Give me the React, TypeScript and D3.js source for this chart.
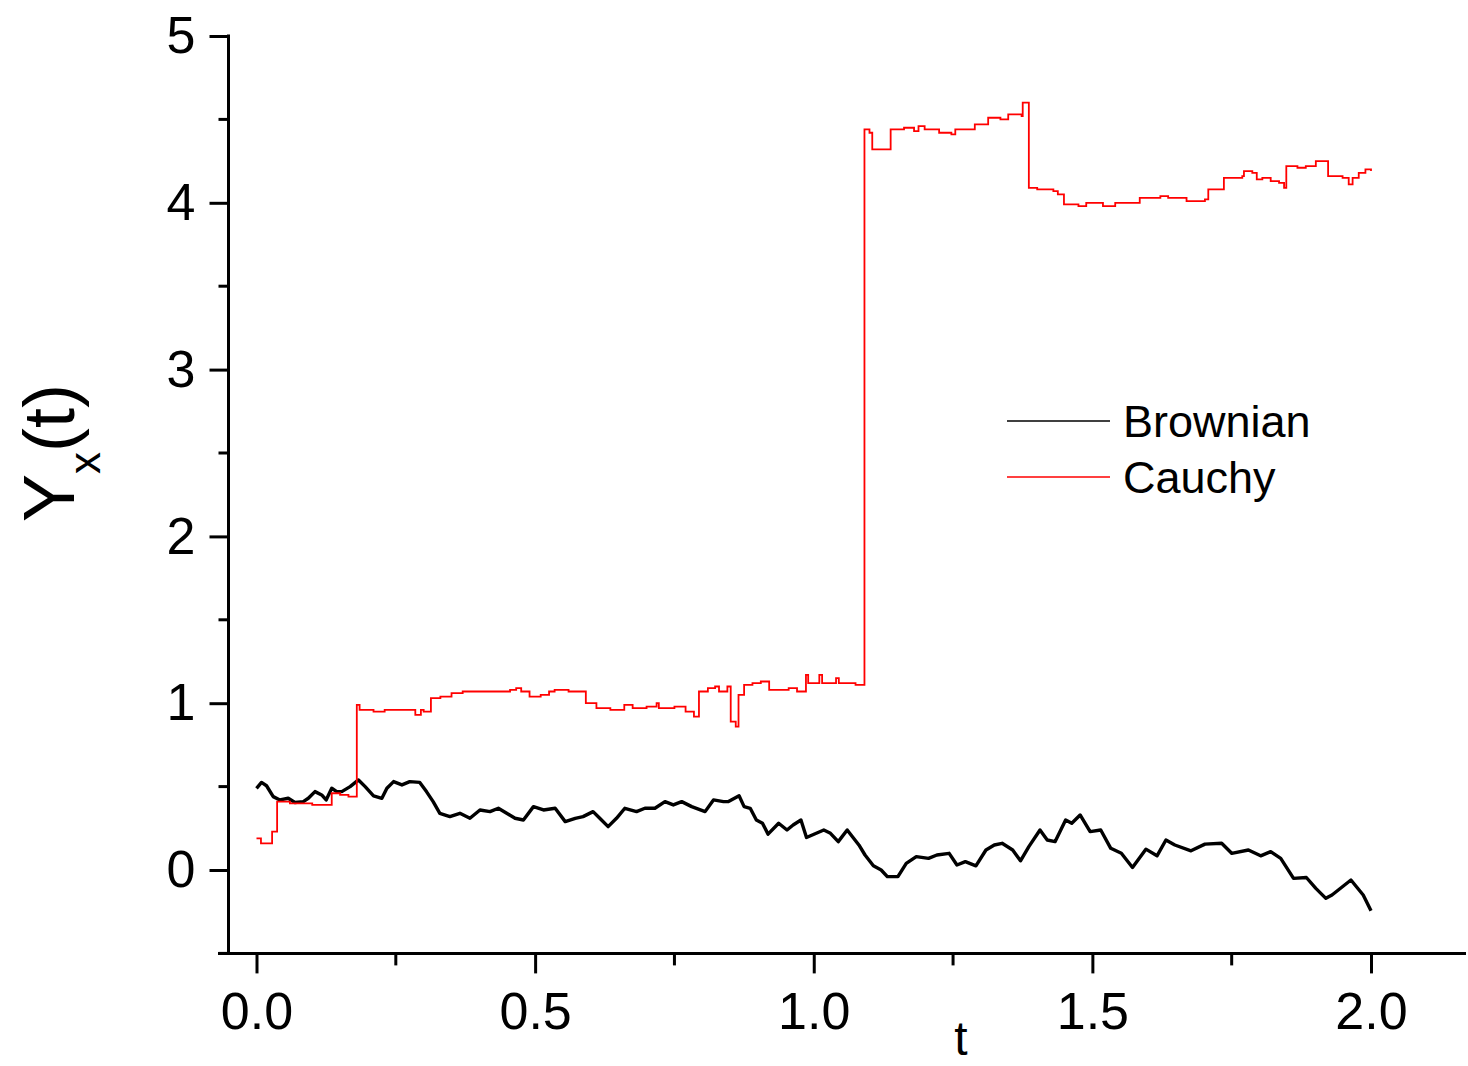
import React, { useEffect, useRef } from "react";
import * as d3 from "d3";

// Brownian path
const brownT = [
  0.0, 0.009, 0.018, 0.03, 0.042, 0.057, 0.069, 0.084, 0.093, 0.105, 0.117, 0.125, 0.135, 0.144, 0.153,
  0.168, 0.183, 0.195, 0.21, 0.225, 0.234, 0.246, 0.261, 0.275, 0.293, 0.305, 0.317, 0.329, 0.347,
  0.365, 0.383, 0.401, 0.419, 0.434, 0.449, 0.464, 0.479, 0.497, 0.515, 0.536, 0.554, 0.572, 0.586,
  0.604, 0.616, 0.631, 0.646, 0.661, 0.682, 0.697, 0.715, 0.733, 0.748, 0.763, 0.781, 0.805, 0.82,
  0.838, 0.847, 0.866, 0.875, 0.886, 0.897, 0.908, 0.918, 0.937, 0.952, 0.963, 0.977, 0.987, 1.018,
  1.03, 1.044, 1.06, 1.081, 1.092, 1.107, 1.121, 1.132, 1.151, 1.166, 1.184, 1.206, 1.221, 1.243,
  1.257, 1.272, 1.291, 1.309, 1.324, 1.338, 1.357, 1.371, 1.386, 1.406, 1.419, 1.433, 1.452, 1.463,
  1.478, 1.496, 1.515, 1.533, 1.552, 1.572, 1.596, 1.616, 1.632, 1.648, 1.677, 1.702, 1.732, 1.75,
  1.78, 1.802, 1.82, 1.838, 1.861, 1.884, 1.901, 1.919, 1.93, 1.964, 1.986, 2.0,
];
const brownY = [
  0.49, 0.525, 0.505, 0.44, 0.42, 0.43, 0.405, 0.41, 0.43, 0.47, 0.45, 0.42, 0.49, 0.47, 0.47,
  0.5, 0.54, 0.5, 0.445, 0.43, 0.49, 0.53, 0.51, 0.53, 0.525, 0.47, 0.41, 0.34, 0.32,
  0.34, 0.31, 0.36, 0.35, 0.37, 0.34, 0.31, 0.3, 0.38, 0.36, 0.37, 0.29, 0.31, 0.32,
  0.35, 0.31, 0.26, 0.31, 0.37, 0.35, 0.37, 0.37, 0.41, 0.39, 0.41, 0.38, 0.35, 0.42,
  0.41, 0.41, 0.445, 0.38, 0.37, 0.3, 0.28, 0.215, 0.28, 0.24, 0.27, 0.3, 0.195, 0.24,
  0.22, 0.17, 0.24, 0.15, 0.09, 0.025, 0.0, -0.04, -0.04, 0.04, 0.08, 0.07, 0.09, 0.1,
  0.03, 0.05, 0.025, 0.12, 0.15, 0.16, 0.12, 0.055, 0.14, 0.24, 0.18, 0.17, 0.3, 0.28,
  0.33, 0.23, 0.24, 0.13, 0.1, 0.015, 0.125, 0.085, 0.18, 0.15, 0.115, 0.155, 0.16, 0.1,
  0.12, 0.085, 0.11, 0.07, -0.05, -0.045, -0.11, -0.17, -0.15, -0.06, -0.15, -0.245,
];

// Cauchy path (step values, each holds until the next t)
const cauchyT = [
  0.0, 0.008, 0.028, 0.037, 0.06, 0.1, 0.135, 0.15, 0.165, 0.18, 0.185, 0.21, 0.23, 0.26, 0.285, 0.295,
  0.3, 0.313, 0.33, 0.35, 0.37, 0.4, 0.43, 0.455, 0.466, 0.475, 0.49, 0.51, 0.525, 0.535, 0.56, 0.591,
  0.61, 0.635, 0.66, 0.675, 0.7, 0.718, 0.722, 0.75, 0.77, 0.785, 0.794, 0.81, 0.823, 0.83, 0.845,
  0.851, 0.86, 0.865, 0.875, 0.89, 0.905, 0.92, 0.94, 0.955, 0.97, 0.986, 0.99, 1.005, 1.01, 1.015,
  1.04, 1.045, 1.075, 1.091, 1.1, 1.105, 1.138, 1.162, 1.18, 1.188, 1.199, 1.225, 1.247, 1.254,
  1.283, 1.289, 1.313, 1.335, 1.349, 1.373, 1.375, 1.386, 1.401, 1.43, 1.438, 1.449, 1.475, 1.489,
  1.519, 1.541, 1.585, 1.622, 1.636, 1.669, 1.702, 1.708, 1.736, 1.769, 1.772, 1.787, 1.795, 1.805,
  1.82, 1.835, 1.844, 1.848, 1.868, 1.883, 1.901, 1.923, 1.949, 1.96, 1.967, 1.978, 1.99, 2.0,
];
const cauchyY = [
  0.19, 0.16, 0.23, 0.41, 0.4, 0.39, 0.46, 0.45, 0.44, 0.99, 0.96, 0.95, 0.96, 0.96, 0.93, 0.96,
  0.95, 1.03, 1.04, 1.06, 1.07, 1.07, 1.07, 1.08, 1.09, 1.07, 1.04, 1.05, 1.07, 1.08, 1.07, 1.0,
  0.97, 0.96, 0.99, 0.97, 0.98, 1.0, 0.97, 0.98, 0.95, 0.92, 1.07, 1.09, 1.1, 1.07, 1.1,
  0.89, 0.86, 1.05, 1.11, 1.12, 1.13, 1.08, 1.08, 1.09, 1.07, 1.17, 1.12, 1.12, 1.17, 1.12,
  1.15, 1.12, 1.11, 4.44, 4.42, 4.32, 4.44, 4.45, 4.43, 4.46, 4.44, 4.42, 4.41, 4.44,
  4.44, 4.47, 4.51, 4.5, 4.53, 4.52, 4.6, 4.09, 4.08, 4.07, 4.05, 3.99, 3.98, 4.0,
  3.98, 4.0, 4.03, 4.04, 4.03, 4.01, 4.02, 4.08, 4.15, 4.16, 4.19, 4.18, 4.14, 4.15,
  4.13, 4.12, 4.09, 4.22, 4.21, 4.22, 4.25, 4.16, 4.15, 4.11, 4.15, 4.18, 4.2, 4.19,
];

const xMajor = [0, 0.5, 1.0, 1.5, 2.0];
const xMinor = [0.25, 0.75, 1.25, 1.75];
const yMajor = [0, 1, 2, 3, 4, 5];
const yMinor = [-0.5, 0.5, 1.5, 2.5, 3.5, 4.5];
const seriesNames = ["Brownian", "Cauchy"];
const seriesColors = ["#000000", "#ff0000"];

const FONT = "'Liberation Sans', Arial, sans-serif";

const App = () => {
  const ref = useRef(null);

  useEffect(() => {
    const svg = d3.select(ref.current);
    svg.selectAll("*").remove();

    const x = d3.scaleLinear().domain([0, 2]).range([256.5, 1371]);
    const y = d3.scaleLinear().domain([0, 5]).range([870, 36]);
    const axisX = 228.5;
    const axisY = y(-0.5);

    // lines
    const brown = brownT.map((t, i) => [t, brownY[i]]);
    const cauchy = cauchyT.map((t, i) => [t, cauchyY[i]]);

    const line = d3
      .line()
      .x((d) => x(d[0]))
      .y((d) => y(d[1]));

    svg
      .append("path")
      .attr("d", line(brown))
      .attr("fill", "none")
      .attr("stroke", seriesColors[0])
      .attr("stroke-width", 3.4)
      .attr("stroke-linejoin", "round");

    svg
      .append("path")
      .attr("d", line.curve(d3.curveStepAfter)(cauchy))
      .attr("fill", "none")
      .attr("stroke", seriesColors[1])
      .attr("stroke-width", 1.8);

    // y axis
    const gy = svg.append("g").attr("transform", `translate(${axisX},0)`);
    gy.call(
      d3.axisLeft(y).tickValues(yMajor).tickSize(19).tickSizeOuter(0).tickPadding(14).tickFormat(d3.format("d"))
    );
    gy.select(".domain").remove();
    gy.selectAll(".tick line").attr("stroke-width", 3);
    gy.selectAll(".tick text")
      .attr("font-family", FONT)
      .attr("font-size", 52)
      .attr("fill", "#000");
    gy.selectAll(".minor")
      .data(yMinor)
      .enter()
      .append("line")
      .attr("x1", -10)
      .attr("x2", 0)
      .attr("y1", (d) => y(d))
      .attr("y2", (d) => y(d))
      .attr("stroke", "#000")
      .attr("stroke-width", 3);
    gy.append("line")
      .attr("y1", y(5) - 1.5)
      .attr("y2", axisY + 1.5)
      .attr("stroke", "#000")
      .attr("stroke-width", 3);

    // x axis
    const gx = svg.append("g").attr("transform", `translate(0,${axisY})`);
    gx.call(
      d3.axisBottom(x).tickValues(xMajor).tickSize(20).tickSizeOuter(0).tickPadding(19).tickFormat(d3.format(".1f"))
    );
    gx.select(".domain").remove();
    gx.selectAll(".tick line").attr("stroke-width", 3);
    gx.selectAll(".tick text")
      .attr("font-family", FONT)
      .attr("font-size", 52)
      .attr("fill", "#000");
    gx.selectAll(".minor")
      .data(xMinor)
      .enter()
      .append("line")
      .attr("x1", (d) => x(d))
      .attr("x2", (d) => x(d))
      .attr("y1", 0)
      .attr("y2", 12)
      .attr("stroke", "#000")
      .attr("stroke-width", 3);
    gx.append("line")
      .attr("x1", 218)
      .attr("x2", 1466)
      .attr("stroke", "#000")
      .attr("stroke-width", 3);

    // axis titles
    svg
      .append("text")
      .attr("x", x(1.264))
      .attr("y", 1055)
      .attr("text-anchor", "middle")
      .attr("font-family", FONT)
      .attr("font-size", 48)
      .text("t");

    const yt = svg
      .append("text")
      .attr("transform", "translate(74,522) rotate(-90)")
      .attr("font-family", FONT)
      .attr("font-size", 72);
    yt.append("tspan").text("Y");
    yt.append("tspan").attr("font-size", 44).attr("dy", 26).text("x");
    yt.append("tspan").attr("dy", -26).text("(t)");

    // legend
    const lg = svg.append("g");
    seriesNames.forEach((name, i) => {
      const ly = 421 + i * 56;
      lg.append("line")
        .attr("x1", 1007)
        .attr("x2", 1110)
        .attr("y1", ly)
        .attr("y2", ly)
        .attr("stroke", seriesColors[i])
        .attr("stroke-width", 1.7);
      lg.append("text")
        .attr("x", 1123)
        .attr("y", ly + 16)
        .attr("font-family", FONT)
        .attr("font-size", 45)
        .text(name);
    });
  }, []);

  return (
    <svg
      ref={ref}
      width={1468}
      height={1066}
      style={{ position: "absolute", left: 0, top: 0, background: "#fff" }}
    ></svg>
  );
};

export default App;
